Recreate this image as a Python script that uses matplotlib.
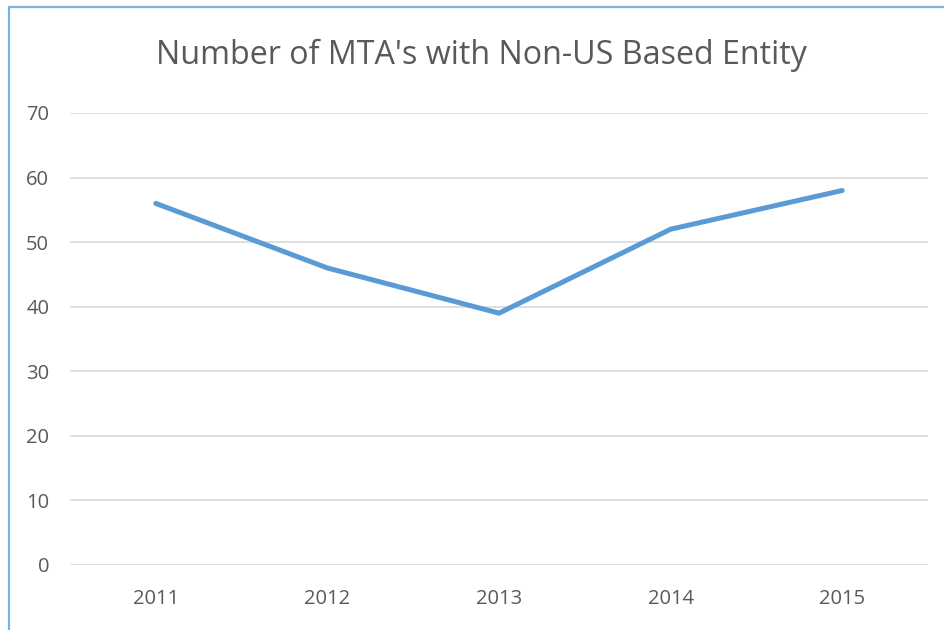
import matplotlib.pyplot as plt
from matplotlib.patches import Rectangle

years = ["2011", "2012", "2013", "2014", "2015"]
counts = [56, 46, 39, 52, 58]
yticks = [0, 10, 20, 30, 40, 50, 60, 70]

plt.rcParams['font.family'] = ['Open Sans', 'DejaVu Sans']

W, H = 944, 630
fig = plt.figure(figsize=(W / 100, H / 100), dpi=100)
ax = fig.add_axes([70 / W, 1 - 565 / H, (928 - 70) / W, (565 - 113) / H])

# chart frame (right/bottom edges cut off in the original screenshot)
fig.patches.append(Rectangle((9 / W, -0.1), 1.2, 1 - 7 / H + 0.1, transform=fig.transFigure,
                             fill=False, edgecolor="#7EB0E0", linewidth=1.6))

x = range(len(years))
ax.plot(x, counts, color="#5B9BD5", linewidth=3.6, solid_capstyle="round", zorder=3)

ax.set_xlim(-0.5, len(years) - 0.5)
ax.set_ylim(0, 70)
ax.set_yticks(yticks)
ax.set_xticks(list(x))
ax.set_xticklabels(years)
ax.grid(axis="y", color="#D9D9D9", linewidth=1.2)
ax.set_axisbelow(True)
for s in ax.spines.values():
    s.set_visible(False)
ax.tick_params(axis="both", length=0, labelsize=14.5, labelcolor="#595959")
ax.tick_params(axis="y", pad=15)
ax.tick_params(axis="x", pad=17)

fig.text(481 / W, 1 - 55 / H, "Number of MTA's with Non-US Based Entity",
         ha="center", va="center", fontsize=23.2, color="#595959")

fig.savefig("out.png", dpi=100)
